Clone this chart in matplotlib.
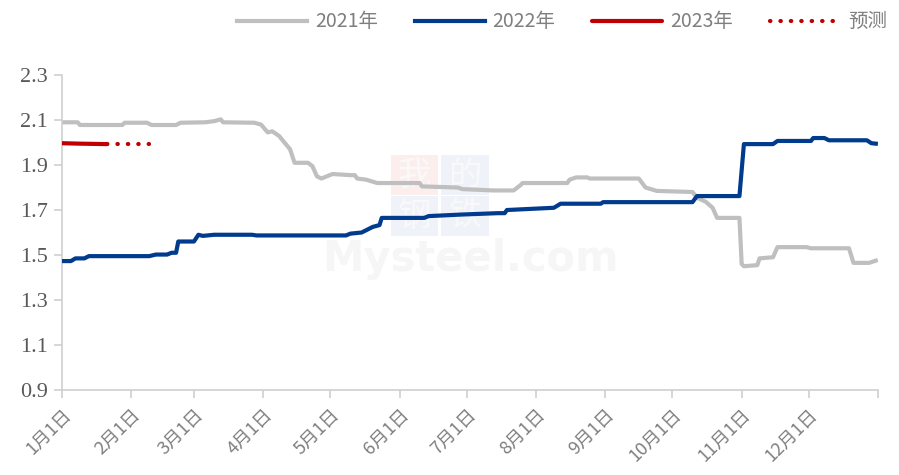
import numpy as np
import matplotlib
matplotlib.use("Agg")
import matplotlib.pyplot as plt
from matplotlib.patches import Rectangle

plt.rcParams['font.family'] = ['Noto Sans CJK SC', 'DejaVu Sans']

# 数据：日序（一年中的第几天）与数值
dias_2021 = [0, 7, 8, 27, 28, 38, 40, 51, 53, 64, 68, 71, 72, 86, 89, 92, 94, 97, 102, 104,
             110, 112, 114, 116, 121, 129, 131, 132, 136, 141, 160, 161, 177, 179, 193, 202,
             205, 206, 226, 227, 230, 235, 236, 258, 261, 266, 282, 284, 288, 291, 293, 303,
             304, 305, 311, 312, 318, 320, 333, 335, 352, 354, 361, 364]
valores_2021 = [2.09, 2.09, 2.078, 2.078, 2.088, 2.088, 2.078, 2.078, 2.088, 2.09, 2.095, 2.103,
                2.09, 2.088, 2.08, 2.045, 2.05, 2.03, 1.97, 1.91, 1.91, 1.895, 1.85, 1.84, 1.86,
                1.855, 1.855, 1.84, 1.835, 1.82, 1.82, 1.805, 1.80, 1.793, 1.787, 1.787, 1.81,
                1.82, 1.82, 1.835, 1.845, 1.845, 1.84, 1.84, 1.80, 1.785, 1.78, 1.755, 1.736,
                1.71, 1.665, 1.665, 1.46, 1.45, 1.455, 1.485, 1.49, 1.535, 1.535, 1.53, 1.53,
                1.465, 1.465, 1.475]

dias_2022 = [0, 4, 6, 10, 12, 39, 42, 47, 49, 51, 52, 59, 61, 63, 68, 85, 87, 127, 129, 134,
             136, 139, 142, 143, 162, 164, 179, 195, 198, 199, 220, 223, 241, 242, 282, 284,
             303, 305, 318, 320, 335, 336, 341, 343, 360, 362, 364]
valores_2022 = [1.473, 1.473, 1.485, 1.485, 1.495, 1.495, 1.502, 1.502, 1.51, 1.51, 1.56, 1.56,
                1.59, 1.585, 1.59, 1.59, 1.587, 1.587, 1.595, 1.60, 1.61, 1.625, 1.633, 1.665,
                1.665, 1.673, 1.68, 1.686, 1.686, 1.70, 1.71, 1.728, 1.728, 1.735, 1.735, 1.762,
                1.762, 1.993, 1.993, 2.007, 2.007, 2.02, 2.02, 2.01, 2.01, 1.997, 1.995]

dias_2023 = [0, 8, 20]
valores_2023 = [1.997, 1.995, 1.993]

dias_pred = [20, 39]
valores_pred = [1.995, 1.995]

meses = ['1月1日', '2月1日', '3月1日', '4月1日', '5月1日', '6月1日',
         '7月1日', '8月1日', '9月1日', '10月1日', '11月1日', '12月1日']
inicio_mes = [0, 31, 59, 90, 120, 151, 181, 212, 243, 273, 304, 334]

fig = plt.figure(figsize=(8.99, 4.75), dpi=100)
ax = fig.add_axes([0.069, 0.179, 0.9077, 0.663])

# marca de agua
ax.text(0.5, 0.415, 'Mysteel.com', transform=ax.transAxes, ha='center', va='center',
        fontsize=30, fontweight='bold', color='#f6f6f6', family='DejaVu Sans', zorder=0)
logo = [('我', 0.403, 0.62, '#fdeeee'), ('的', 0.465, 0.62, '#eff2f8'),
        ('钢', 0.403, 0.49, '#eff2f8'), ('铁', 0.465, 0.49, '#eff2f8')]
for ch, lx, ly, col in logo:
    ax.add_patch(Rectangle((lx, ly), 0.058, 0.125, transform=ax.transAxes,
                           facecolor=col, edgecolor='none', zorder=0))
    ax.text(lx + 0.029, ly + 0.062, ch, transform=ax.transAxes, ha='center', va='center',
            fontsize=24, color='#f9f9f9', zorder=0)

ax.plot(dias_2021, valores_2021, color='#bfbfbf', lw=3, label='2021年', zorder=2)
ax.plot(dias_2022, valores_2022, color='#003b8e', lw=3, label='2022年', zorder=3)
ax.plot(dias_2023, valores_2023, color='#c00000', lw=3, label='2023年', zorder=4,
        solid_capstyle='round')
ax.plot(dias_pred, valores_pred, color='#c00000', lw=3, linestyle=(0, (0.1, 2.4)),
        dash_capstyle='round', label='预测', zorder=4)

ax.set_xlim(0, 365)
ax.set_ylim(0.9, 2.3)
ax.set_yticks(np.arange(0.9, 2.31, 0.2))
ax.set_yticklabels([f'{v:.1f}' for v in np.arange(0.9, 2.31, 0.2)],
                   family='Liberation Serif', fontsize=16, color='#595959')
ax.set_xticks(inicio_mes + [365])
ax.set_xticklabels(meses + [''], rotation=45, ha='right', va='top',
                   rotation_mode='anchor', fontsize=13, color='#7f7f7f')

for lado in ['top', 'right']:
    ax.spines[lado].set_visible(False)
for lado in ['left', 'bottom']:
    ax.spines[lado].set_color('#d0d0d0')
    ax.spines[lado].set_linewidth(1.2)
ax.tick_params(axis='both', direction='out', length=6, color='#d0d0d0', width=1.2)
ax.tick_params(axis='x', pad=5)
ax.tick_params(axis='y', pad=4)

fig.legend(loc='center', bbox_to_anchor=(0.625, 0.954), ncol=4, frameon=False,
           fontsize=14, handlelength=3.6, columnspacing=1.9, handletextpad=0.4,
           labelcolor='#7f7f7f')

fig.savefig('out.png', dpi=100)
